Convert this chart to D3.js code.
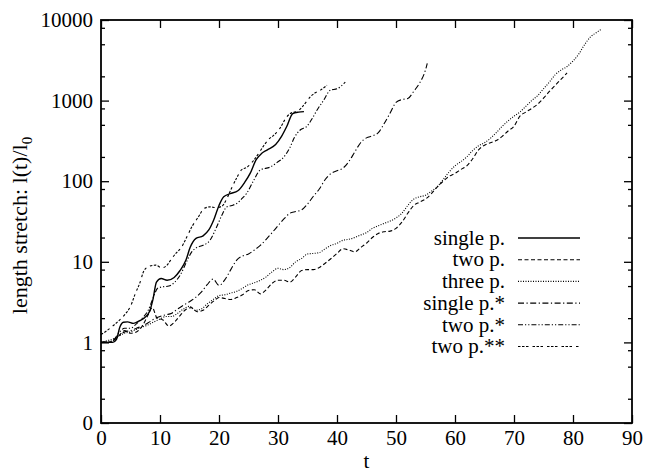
<!DOCTYPE html>
<html>
<head>
<meta charset="utf-8">
<script src="https://cdn.jsdelivr.net/npm/d3@7"></script>
<style>
  html, body { margin: 0; padding: 0; background: #fff; overflow: hidden; }
  svg { display: block; }
  text { font-family: "Liberation Serif", "Times New Roman", serif; fill: #000; }
</style>
</head>
<body>
<svg width="647" height="476"></svg>
<script>
// [t, l(t)/l0]
const singleP = [[0,1],[1,1],[2,1],[2.6,1.08],[3.2,1.55],[3.8,1.78],[4.5,1.8],[5.5,1.72],[6.5,1.85],[7.3,2.0],[8.2,2.4],[8.8,3.4],[9.4,5.6],[10.2,6.2],[11.2,5.9],[12.4,6.4],[13.4,7.8],[14.4,10.5],[15.1,15],[16.1,19.5],[17.3,21],[18.3,25],[19.1,33],[20,50],[20.8,64],[21.9,70],[23.2,76],[24.4,98],[25.3,126],[26.3,185],[27.2,220],[28.2,245],[29.6,285],[30.6,360],[31.5,480],[32.5,690],[33.5,720],[34.4,730]]

const twoP = [[0,1],[1,1],[2,1.05],[3,1.2],[4,1.4],[5,1.3],[6,1.35],[7,1.6],[8,2.2],[8.7,2.7],[9.5,2.0],[10.5,1.9],[11.5,1.6],[12.5,1.8],[13.5,2.2],[14.5,2.6],[15.3,2.7],[16.3,2.4],[17.3,2.5],[18.3,2.9],[19.2,3.3],[20,3.6],[21,3.5],[22,3.4],[23,3.6],[24,3.9],[25,4.4],[26,4.5],[27,4.0],[28,4.5],[29,5.4],[30,5.9],[31,5.9],[32,5.6],[33,6.5],[34,7.8],[35,8.0],[36,8.0],[37,8.5],[38,9.6],[39,11],[40,12.7],[41,14.5],[42,14],[43,13.3],[44,15],[45,17],[46,20],[47,22.5],[48,23.6],[49,24],[50,26],[51,31],[52,40],[53,50],[54,55],[55,60],[56,70],[57,85],[58,100],[59,115],[60,125],[61,140],[62,155],[63,190],[64,245],[65,280],[66,300],[67,320],[68,360],[69,420],[70,480],[71,640],[72,720],[73,800],[74,900],[75,1070],[76,1300],[77,1550],[78,1850],[79,2200]]

const threeP = [[0,1],[1,1.05],[2,1.1],[3,1.2],[4,1.3],[5,1.35],[6,1.45],[7,1.55],[8,1.65],[9,1.8],[10,1.95],[11,2.1],[12,2.1],[13,2.3],[14,2.6],[15,2.8],[16,2.5],[17,2.6],[18,3.0],[19,3.4],[20,3.8],[21,3.9],[22,4.1],[23,4.3],[24,4.7],[25,5.2],[26,5.5],[27,5.9],[28,6.5],[29,7.5],[30,8.3],[31,8.0],[32,8.5],[33,10],[34,11],[35,12.5],[36,12.7],[37,13],[38,14.5],[39,16],[40,17],[41,18.5],[42,19],[43,20],[44,21.5],[45,23],[46,26],[47,28],[48,30],[49,32],[50,35],[51,40],[52,50],[53,60],[54,64],[55,67],[56,75],[57,85],[58,105],[59,130],[60,155],[61,175],[62,200],[63,240],[64,275],[65,300],[66,340],[67,400],[68,480],[69,560],[70,640],[71,720],[72,850],[73,1000],[74,1150],[75,1400],[76,1700],[77,2100],[78,2400],[79,2650],[80,3100],[81,3800],[82,5000],[83,6200],[84,7000],[84.7,7600]]

const singleP1 = [[0,1],[2,1.05],[3,1.2],[4,1.35],[5,1.4],[6,1.5],[7,1.6],[8,1.75],[9,1.95],[10,2.1],[11,2.2],[12,2.3],[13,2.6],[14,2.9],[15,3.2],[16,3.6],[17,4.2],[18,5.2],[19,6.1],[20,5.1],[21,6.0],[22,8.0],[23,10.5],[24,11.8],[25,12.5],[26,14],[27,16],[28,19],[29,23],[30,28],[31,34],[32,40],[33,42],[34,44],[35,52],[36,65],[37,80],[38,105],[39,125],[40,135],[41,145],[42,175],[43,230],[44,300],[45,345],[46,365],[47,400],[48,520],[49,700],[50,950],[51,1030],[52,1060],[53,1300],[54,1650],[55,2400],[55.3,2900]]

const twoP1 = [[0,1],[1,1],[2,1.05],[3,1.3],[4,1.5],[5,1.5],[6,1.7],[7,2.0],[8,2.5],[8.8,3.5],[9.6,4.7],[10.5,4.9],[11.5,5.0],[12.5,5.6],[13.5,7],[14.5,10],[15.3,13],[16.2,15],[17.3,16],[18.5,18.6],[19.5,26],[20.5,38],[21.3,48],[22.2,50],[23,53],[24,62],[24.7,71],[25.8,100],[27,138],[28.7,150],[29.8,170],[31,200],[32,260],[32.8,350],[33.8,435],[34.9,480],[35.8,600],[36.6,760],[37.7,1000],[38.9,1350],[40,1400],[41.4,1700]]

const twoP2 = [[0,1.25],[1,1.4],[2,1.6],[3,1.85],[4,2.2],[5,2.8],[5.8,4],[6.6,5.5],[7.3,7.8],[8.2,8.8],[9.3,9.1],[10.3,8.4],[11.2,9.1],[12,11],[12.8,13],[13.6,15],[14.5,20],[15.5,28],[16.5,36],[17.5,46],[18.5,48],[19.5,47],[20.5,49],[21.3,60],[22,78],[23,110],[23.8,138],[24.8,150],[25.9,182],[26.7,220],[27.5,270],[28.4,330],[29.3,372],[30.3,450],[31.5,630],[32.4,710],[33.2,730],[34.2,850],[35.5,1120],[36.3,1250],[37.2,1350],[38.3,1550]]

const seriesNames = ['single p.', 'two p.', 'three p.', 'single p.*', 'two p.*', 'two p.**']
const seriesData = [singleP, twoP, threeP, singleP1, twoP1, twoP2]
const dashes = ['none', '4,2.5', '1,1.5', '6,2.5,1.2,2.5', '5,2,1.2,2,1.2,2', '2.5,1.5,2.5,1.5,2.5,4']

const xTicks = [0, 10, 20, 30, 40, 50, 60, 70, 80, 90]
const yTicks = [0.1, 1, 10, 100, 1000, 10000]
const yMinor = [0.2, 0.5, 0.8, 2, 5, 8, 20, 50, 80, 200, 500, 800, 2000, 5000, 8000]

const svg = d3.select('svg')
const width = +svg.attr('width')
const height = +svg.attr('height')
const margin = {left: 101, right: 15, top: 20, bottom: 53}
const innerWidth = width - margin.left - margin.right
const innerHeight = height - margin.top - margin.bottom
const font = '21px'

const xScale = d3.scaleLinear().domain([0, 90]).range([0, innerWidth])
const yScale = d3.scaleLog().domain([0.1, 10000]).range([innerHeight, 0])

const g = svg.append('g')
  .attr('transform', `translate(${margin.left}, ${margin.top})`)

const yFormat = v => v < 1 ? '0' : d3.format('d')(v)

// axes with inward ticks, mirrored on all sides
const styleAxis = sel => {
  sel.select('.domain').remove()
  sel.selectAll('.tick line').attr('stroke', '#000').attr('stroke-width', 1.3)
  sel.selectAll('.tick text').attr('font-size', font).attr('font-family', null)
}
const ticksOnly = sel => {
  styleAxis(sel)
  sel.selectAll('.tick text').remove()
}

g.append('g')
  .attr('transform', `translate(0, ${innerHeight})`)
  .call(d3.axisBottom(xScale).tickValues(xTicks).tickSize(-8).tickPadding(7))
  .call(styleAxis)

g.append('g')
  .call(d3.axisTop(xScale).tickValues(xTicks).tickSize(-8))
  .call(ticksOnly)

g.append('g')
  .call(d3.axisLeft(yScale).tickValues(yTicks).tickSize(-8).tickPadding(8).tickFormat(yFormat))
  .call(styleAxis)

g.append('g')
  .call(d3.axisLeft(yScale).tickValues(yMinor).tickSize(-4))
  .call(ticksOnly)

g.append('g')
  .attr('transform', `translate(${innerWidth}, 0)`)
  .call(d3.axisRight(yScale).tickValues(yTicks).tickSize(-8))
  .call(ticksOnly)

g.append('g')
  .attr('transform', `translate(${innerWidth}, 0)`)
  .call(d3.axisRight(yScale).tickValues(yMinor).tickSize(-4))
  .call(ticksOnly)

const line = d3.line()
  .x(d => xScale(d[0]))
  .y(d => yScale(d[1]))
  .curve(d3.curveMonotoneX)

g.selectAll('.series')
  .data(seriesData)
  .enter()
  .append('path')
    .attr('class', 'series')
    .attr('d', line)
    .attr('fill', 'none')
    .attr('stroke', '#000')
    .attr('stroke-width', (d, i) => i === 0 ? 1.4 : 1.1)
    .attr('stroke-dasharray', (d, i) => dashes[i])

g.append('rect')
  .attr('width', innerWidth)
  .attr('height', innerHeight)
  .attr('fill', 'none')
  .attr('stroke', '#000')
  .attr('stroke-width', 1.8)

// legend, placed in page coordinates
const legendX = 505
const legendY = 238
const legendStep = 21.7

svg.selectAll('.legend-label')
  .data(seriesNames)
  .enter()
  .append('text')
    .attr('class', 'legend-label')
    .attr('x', legendX)
    .attr('y', (d, i) => legendY + i * legendStep)
    .attr('text-anchor', 'end')
    .attr('dy', '0.32em')
    .attr('font-size', font)
    .text(d => d)

svg.selectAll('.legend-line')
  .data(seriesNames)
  .enter()
  .append('line')
    .attr('class', 'legend-line')
    .attr('x1', legendX + 13)
    .attr('x2', legendX + 75)
    .attr('y1', (d, i) => legendY + i * legendStep)
    .attr('y2', (d, i) => legendY + i * legendStep)
    .attr('stroke', '#000')
    .attr('stroke-width', (d, i) => i === 0 ? 1.4 : 1.1)
    .attr('stroke-dasharray', (d, i) => dashes[i])

// axis titles
svg.append('text')
  .attr('x', margin.left + innerWidth / 2)
  .attr('y', 468)
  .attr('text-anchor', 'middle')
  .attr('font-size', font)
  .text('t')

const yLabel = svg.append('text')
  .attr('transform', `translate(27, ${margin.top + innerHeight / 2 + 4}) rotate(-90)`)
  .attr('text-anchor', 'middle')
  .attr('font-size', '22px')

yLabel.append('tspan').text('length stretch: l(t)/l')
yLabel.append('tspan').attr('font-size', '15px').attr('dy', 5).text('0')
</script>
</body>
</html>
